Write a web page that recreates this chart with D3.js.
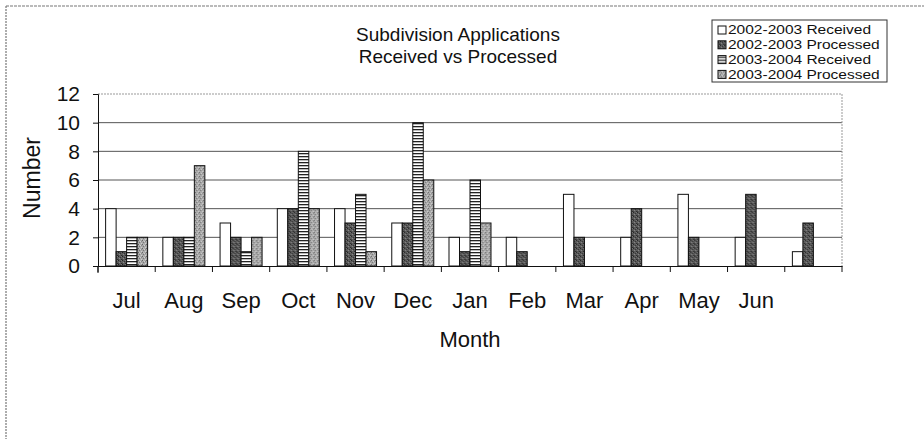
<!DOCTYPE html>
<html>
<head>
<meta charset="utf-8">
<script src="https://cdn.jsdelivr.net/npm/d3@7/dist/d3.min.js"></script>
<style>
  html, body { margin: 0; padding: 0; background: #fff; }
  svg { display: block; font-family: "Liberation Sans", Arial, sans-serif; }
</style>
</head>
<body>
<svg id="chart" width="924" height="439"></svg>
<script>
// ---- Data ----
const months = ["Jul","Aug","Sep","Oct","Nov","Dec","Jan","Feb","Mar","Apr","May","Jun",""];
const seriesNames = ["2002-2003 Received","2002-2003 Processed","2003-2004 Received","2003-2004 Processed"];
const received0203  = [4, 2, 3, 4, 4, 3, 2, 2, 5, 2, 5, 2, 1];
const processed0203 = [1, 2, 2, 4, 3, 3, 1, 1, 2, 4, 2, 5, 3];
const received0304  = [2, 2, 1, 8, 5, 10, 6, 0, 0, 0, 0, 0, 0];
const processed0304 = [2, 7, 2, 4, 1, 6, 3, 0, 0, 0, 0, 0, 0];
const yTicks = [0, 2, 4, 6, 8, 10, 12];
const titleLines = ["Subdivision Applications", "Received vs Processed"];
const xTitle = "Month";
const yTitle = "Number";

const allSeries = [received0203, processed0203, received0304, processed0304];

const svg = d3.select("#chart");
const defs = svg.append("defs");

// patterns
function noisePattern(id, base, dots) {
  const p = defs.append("pattern").attr("id", id).attr("patternUnits", "userSpaceOnUse")
    .attr("width", 4).attr("height", 4);
  p.append("rect").attr("width", 4).attr("height", 4).attr("fill", base);
  dots.forEach(d => p.append("rect").attr("x", d[0]).attr("y", d[1]).attr("width", 1).attr("height", 1).attr("fill", d[2]));
}
noisePattern("pDark", "#5a5a5a", [[0,0,"#222"],[2,1,"#333"],[1,2,"#8a8a8a"],[3,3,"#2a2a2a"],[3,0,"#777"],[0,3,"#444"]]);
noisePattern("pLight", "#a8a8a8", [[0,0,"#666"],[2,1,"#d0d0d0"],[1,2,"#777"],[3,3,"#cfcfcf"],[3,1,"#888"],[1,0,"#bbb"]]);
const ps = defs.append("pattern").attr("id", "pStripe").attr("patternUnits", "userSpaceOnUse")
  .attr("width", 4).attr("height", 3);
ps.append("rect").attr("width", 4).attr("height", 3).attr("fill", "#fff");
ps.append("rect").attr("width", 4).attr("height", 1.3).attr("fill", "#222");

const fills = ["#ffffff", "url(#pDark)", "url(#pStripe)", "url(#pLight)"];

// outer frame (left and top edges)
svg.append("line").attr("x1", 6).attr("x2", 6).attr("y1", 6).attr("y2", 439)
  .attr("stroke", "#777").attr("stroke-width", 1.2).attr("stroke-dasharray", "2,1");
svg.append("line").attr("x1", 6).attr("x2", 924).attr("y1", 6).attr("y2", 6)
  .attr("stroke", "#777").attr("stroke-width", 1.2).attr("stroke-dasharray", "3,1");

// scales
const plotL = 98, plotR = 842, plotT = 94, plotB = 266;
const x = d3.scaleBand().domain(months.map((m, i) => i)).range([plotL, plotR]).padding(0);
const xs = d3.scaleBand().domain(d3.range(seriesNames.length))
  .range([x.bandwidth() * 0.133, x.bandwidth() * (1 - 0.133)]).padding(0);
const y = d3.scaleLinear().domain([0, 12]).range([plotB, plotT]);

// gridlines
svg.append("g").selectAll("line").data(yTicks.filter(t => t > 0)).join("line")
  .attr("x1", plotL).attr("x2", plotR)
  .attr("y1", d => y(d)).attr("y2", d => y(d))
  .attr("stroke", d => d === 12 ? "#999" : "#555")
  .attr("stroke-width", 1)
  .attr("stroke-dasharray", d => d === 12 ? "2,1" : null);

// right plot border
svg.append("line").attr("x1", plotR).attr("x2", plotR).attr("y1", plotT).attr("y2", plotB)
  .attr("stroke", "#999").attr("stroke-dasharray", "2,1");

// bars
const groups = svg.append("g").selectAll("g").data(months.map((m, i) => i)).join("g")
  .attr("transform", i => `translate(${x(i)},0)`);
groups.selectAll("rect")
  .data(i => allSeries.map((s, k) => ({ k, v: s[i] })).filter(d => d.v > 0))
  .join("rect")
  .attr("x", d => xs(d.k))
  .attr("width", xs.bandwidth())
  .attr("y", d => y(d.v))
  .attr("height", d => y(0) - y(d.v))
  .attr("fill", d => fills[d.k])
  .attr("stroke", "#111")
  .attr("stroke-width", 1);

// y axis
const yAxis = d3.axisLeft(y).tickValues(yTicks).tickSize(5).tickPadding(13).tickFormat(d3.format("d"));
const gy = svg.append("g").attr("transform", `translate(${plotL},0)`).call(yAxis);
gy.select(".domain").attr("stroke", "#111");
gy.selectAll(".tick line").attr("stroke", "#111");
gy.selectAll(".tick text").attr("font-size", 21).attr("fill", "#111")
  .attr("font-family", "Liberation Sans, Arial, sans-serif");
gy.append("line").attr("x1", 0).attr("x2", 0).attr("y1", plotB).attr("y2", plotB + 7).attr("stroke", "#111");

// x axis
const xAxis = d3.axisBottom(x).tickSize(0).tickFormat(i => months[i]).tickPadding(26);
const gx = svg.append("g").attr("transform", `translate(0,${plotB})`).call(xAxis);
gx.select(".domain").attr("stroke", "#111");
gx.selectAll(".tick text").attr("font-size", 22).attr("fill", "#111")
  .attr("font-family", "Liberation Sans, Arial, sans-serif");
// boundary ticks
gx.append("g").selectAll("line").data(months.map((m, i) => i).concat([months.length])).join("line")
  .attr("x1", i => i < months.length ? x(i) : plotR)
  .attr("x2", i => i < months.length ? x(i) : plotR)
  .attr("y1", 0).attr("y2", 6).attr("stroke", "#111");

// titles
svg.append("g").selectAll("text").data(titleLines).join("text")
  .attr("x", 458).attr("y", (d, i) => 41 + i * 22)
  .attr("text-anchor", "middle").attr("font-size", 19).attr("fill", "#111")
  .text(d => d);

svg.append("text").attr("x", 470).attr("y", 347).attr("text-anchor", "middle")
  .attr("font-size", 22).attr("fill", "#111").text(xTitle);

svg.append("text").attr("transform", "translate(40,178) rotate(-90)")
  .attr("text-anchor", "middle").attr("font-size", 23).attr("fill", "#111").text(yTitle);

// legend
const lg = svg.append("g");
lg.append("rect").attr("x", 712).attr("y", 20).attr("width", 175).attr("height", 62)
  .attr("fill", "#fff").attr("stroke", "#333").attr("stroke-width", 1);
const items = lg.selectAll("g.item").data(seriesNames).join("g").attr("class", "item")
  .attr("transform", (d, i) => `translate(0,${30 + i * 14.8})`);
items.append("rect").attr("x", 718).attr("y", -4).attr("width", 8).attr("height", 8)
  .attr("fill", (d, i) => fills[i]).attr("stroke", "#111");
items.append("text").attr("x", 728).attr("y", 0).attr("dy", "0.35em")
  .attr("font-size", 12.5).attr("fill", "#111").text(d => d)
  .each(function() {
    const w = this.getComputedTextLength();
    d3.select(this).attr("textLength", w * 15.5 / 12.5).attr("lengthAdjust", "spacingAndGlyphs");
  });
</script>
</body>
</html>
